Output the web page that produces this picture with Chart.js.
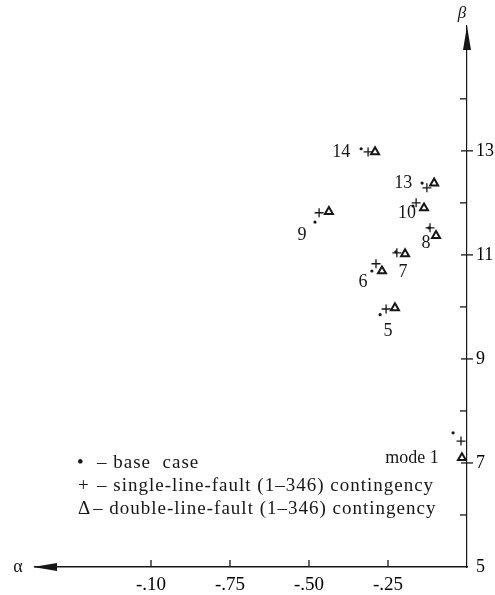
<!DOCTYPE html>
<html>
<head>
<meta charset="utf-8">
<script src="https://cdn.jsdelivr.net/npm/chart.js@4/dist/chart.umd.min.js"></script>
<style>
html,body{margin:0;padding:0;background:#fff;}
#wrap{width:495px;height:595px;position:relative;}
</style>
</head>
<body>
<div id="wrap"><canvas id="c"></canvas></div>
<script>
// ---- data ----
const caseLabels = ['5','6','7','8','9','10','13','14','mode 1'];
const baseAlpha   = [-0.275,-0.301,-0.225,-0.120,-0.481,-0.171,-0.142,-0.335,-0.044];
const baseBeta    = [ 9.85, 10.69, 11.06, 11.52, 11.63, 11.94, 12.38, 13.04,  7.58];
const singleAlpha = [-0.256,-0.288,-0.222,-0.117,-0.468,-0.161,-0.127,-0.313,-0.019];
const singleBeta  = [ 9.96, 10.83, 11.04, 11.52, 11.81, 12.00, 12.29, 12.98,  7.42];
const doubleAlpha = [-0.228,-0.269,-0.196,-0.098,-0.437,-0.136,-0.104,-0.291,-0.016];
const doubleBeta  = [ 9.98, 10.69, 11.02, 11.37, 11.83, 11.90, 12.38, 12.98,  7.10];
const xTickValues = [-1, -0.75, -0.5, -0.25, 0];
const xTickLabels = ['-.10', '-.75', '-.50', '-.25', ''];
const yTickValues = [5,6,7,8,9,10,11,12,13,14];
const yTickLabels = ['5','','7','','9','','11','','13',''];
const legendSymbols = ['\u2022', '+', '\u0394'];
const legendTexts = ['\u2013 base  case', '\u2013 single-line-fault (1\u2013346) contingency', '\u2013 double-line-fault (1\u2013346) contingency'];

// label placement offsets (pixels, relative to the base-case point)
const labelOffsets = [[8,17],[-9,11],[7,21],[-3,15],[-13,13],[-6,7],[-19,0],[-20,4],[-41,25]];

const toPts = (xs, ys) => xs.map((x,i)=>({x:x, y:ys[i]}));
const SERIF = '"Liberation Serif", "DejaVu Serif", serif';
const INK = '#161616';

const deco = {
  id: 'deco',
  afterDraw(chart){
    const ctx = chart.ctx, xs = chart.scales.x, ys = chart.scales.y, ca = chart.chartArea;
    ctx.save();
    ctx.strokeStyle = INK; ctx.fillStyle = INK; ctx.lineWidth = 1.3;
    const seg = (a,b,c,d)=>{ctx.beginPath();ctx.moveTo(a,b);ctx.lineTo(c,d);ctx.stroke();};
    // x tick marks (upward)
    xTickValues.forEach(v=>{ if(v===0) return; const p = xs.getPixelForValue(v); seg(p, ca.bottom, p, ca.bottom-7); });
    // y tick marks
    yTickValues.forEach(v=>{
      if (v===5) return;
      const p = ys.getPixelForValue(v);
      if (v % 2 === 1) seg(ca.right-6, p, ca.right+6, p);
      else seg(ca.right-7, p, ca.right, p);
    });
    // arrows
    ctx.beginPath();
    ctx.moveTo(ca.left-2, ca.bottom); ctx.lineTo(ca.left+22, ca.bottom-4); ctx.lineTo(ca.left+22, ca.bottom+4); ctx.closePath(); ctx.fill();
    ctx.beginPath();
    ctx.moveTo(ca.right, ca.top); ctx.lineTo(ca.right-4, ca.top+24); ctx.lineTo(ca.right+4, ca.top+24); ctx.closePath(); ctx.fill();
    // axis names
    ctx.textAlign = 'center'; ctx.textBaseline = 'middle';
    ctx.font = '18px ' + SERIF;
    ctx.fillText('\u03b1', 18, ca.bottom);
    ctx.font = 'italic 17px ' + SERIF;
    ctx.fillText('\u03b2', ca.right-5, 14);
    // case labels
    ctx.font = '18px ' + SERIF;
    caseLabels.forEach((t,i)=>{
      const px = xs.getPixelForValue(baseAlpha[i]) + labelOffsets[i][0];
      const py = ys.getPixelForValue(baseBeta[i]) + labelOffsets[i][1];
      ctx.fillText(t, px, py);
    });
    // legend
    ctx.textAlign = 'left';
    ctx.font = '19px ' + SERIF;
    const ly = [463, 486, 509];
    const sx = [77, 78, 78];
    const tx = [97, 97, 93];
    legendSymbols.forEach((s,i)=>{
      ctx.fillText(s, sx[i], ly[i]);
      if ('letterSpacing' in ctx) ctx.letterSpacing = '1px';
      ctx.fillText(legendTexts[i], tx[i], ly[i]);
      if ('letterSpacing' in ctx) ctx.letterSpacing = '0px';
    });
    ctx.restore();
  }
};

new Chart(document.getElementById('c'), {
  type: 'scatter',
  data: {
    datasets: [
      { label: 'base case', data: toPts(baseAlpha, baseBeta), pointStyle: 'circle', pointRadius: 1.6, backgroundColor: INK, borderColor: INK, borderWidth: 0 },
      { label: 'single-line-fault', data: toPts(singleAlpha, singleBeta), pointStyle: 'cross', pointRadius: 4.5, borderColor: INK, borderWidth: 1.3, backgroundColor: 'transparent' },
      { label: 'double-line-fault', data: toPts(doubleAlpha, doubleBeta), pointStyle: 'triangle', pointRadius: 4.6, borderColor: INK, borderWidth: 2, backgroundColor: 'transparent' }
    ]
  },
  options: {
    responsive: true, maintainAspectRatio: false, animation: false, devicePixelRatio: 1,
    layout: { padding: { left: 35, top: 26, right: 0, bottom: 0 } },
    plugins: { legend: { display: false }, tooltip: { enabled: false } },
    scales: {
      x: {
        type: 'linear', position: 'bottom', min: -1.367, max: 0,
        afterBuildTicks: s => { s.ticks = xTickValues.map(v=>({value:v})); },
        afterFit: s => { s.height = 28; },
        grid: { display: false, drawTicks: false },
        border: { display: true, color: INK, width: 1.5 },
        ticks: { padding: 7, color: '#000', font: { family: SERIF, size: 19 },
          callback: v => { const i = xTickValues.indexOf(v); return i >= 0 ? xTickLabels[i] : ''; } }
      },
      y: {
        type: 'linear', position: 'right', min: 5, max: 15.4,
        afterBuildTicks: s => { s.ticks = yTickValues.map(v=>({value:v})); },
        afterFit: s => { s.width = 28; },
        grid: { display: false, drawTicks: false },
        border: { display: true, color: INK, width: 1.2 },
        ticks: { padding: 9, color: '#000', font: { family: SERIF, size: 18 },
          callback: v => { const i = yTickValues.indexOf(v); return i >= 0 ? yTickLabels[i] : ''; } }
      }
    }
  },
  plugins: [deco]
});
</script>
</body>
</html>
